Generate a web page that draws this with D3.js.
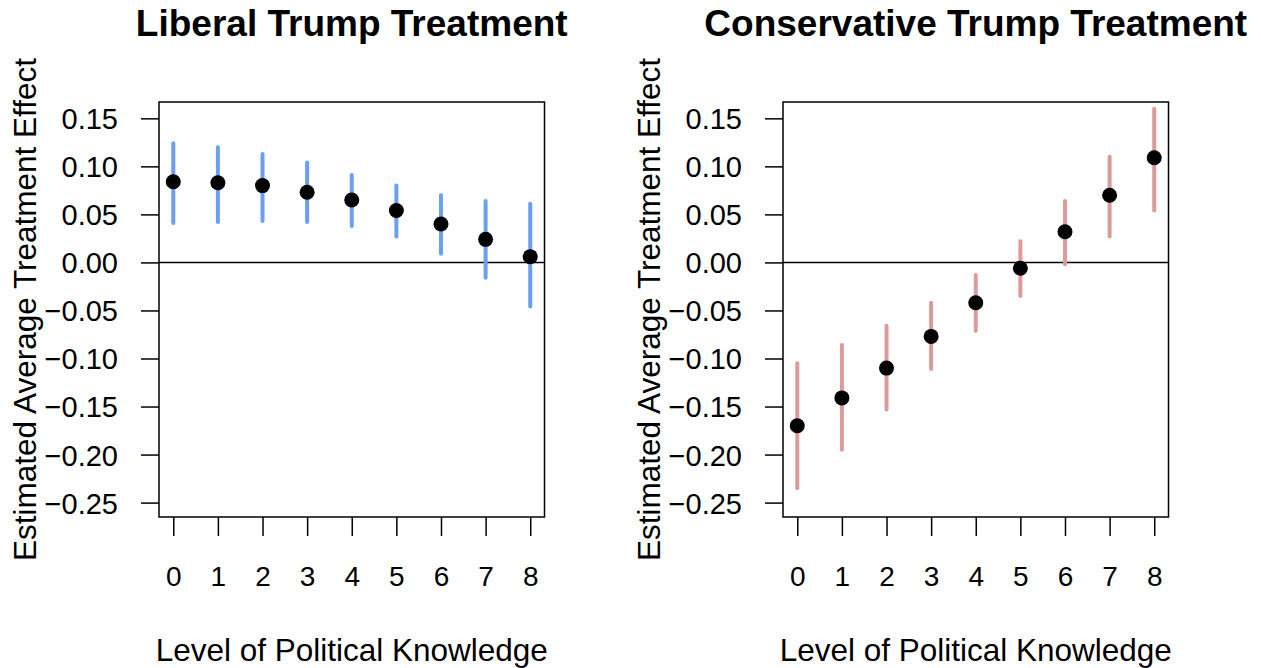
<!DOCTYPE html>
<html>
<head>
<meta charset="utf-8">
<script src="https://cdn.jsdelivr.net/npm/d3@7"></script>
<style>
  body { margin: 0; background: #fff; }
  svg { display: block; font-family: "Liberation Sans", Arial, sans-serif; }
</style>
</head>
<body>
<svg id="chart" width="1261" height="668"></svg>
<script>
// knowledge levels 0..8
var levels = [0, 1, 2, 3, 4, 5, 6, 7, 8];
var yTicks = [0.15, 0.10, 0.05, 0.00, -0.05, -0.10, -0.15, -0.20, -0.25];

// Liberal Trump treatment
var libEst   = [0.084, 0.083, 0.080, 0.073, 0.065, 0.054, 0.040, 0.024, 0.006];
var libLower = [0.041, 0.042, 0.043, 0.042, 0.038, 0.027, 0.009, -0.016, -0.046];
var libUpper = [0.124, 0.120, 0.113, 0.104, 0.091, 0.080, 0.070, 0.064, 0.061];

// Conservative Trump treatment
var conEst   = [-0.170, -0.141, -0.110, -0.077, -0.042, -0.006, 0.032, 0.070, 0.109];
var conLower = [-0.235, -0.195, -0.153, -0.111, -0.071, -0.035, -0.002, 0.027, 0.054];
var conUpper = [-0.105, -0.086, -0.066, -0.042, -0.013, 0.022, 0.064, 0.110, 0.160];

var panels = [
  { title: "Liberal Trump Treatment", est: libEst, lo: libLower, hi: libUpper, color: "#6b9ff1", left: 159 },
  { title: "Conservative Trump Treatment", est: conEst, lo: conLower, hi: conUpper, color: "#dd9a9a", left: 783 }
];

var boxW = 385.5, plotTop = 102, plotBottom = 517;
var svg = d3.select("#chart");

var y = d3.scaleLinear().domain([-0.265, 0.167]).range([plotBottom, plotTop]);
var fmt = function(d) { return d3.format(".2f")(d).replace("-", "\u2212"); };

panels.forEach(function(p) {
  var x = d3.scaleLinear().domain([-0.32, 8.32]).range([p.left, p.left + boxW]);
  var g = svg.append("g");

  // zero line
  g.append("line")
    .attr("x1", p.left).attr("x2", p.left + boxW)
    .attr("y1", y(0)).attr("y2", y(0))
    .attr("stroke", "black").attr("stroke-width", 1.5);

  // error bars
  g.selectAll("line.ci")
    .data(levels)
    .enter()
    .append("line")
      .attr("class", "ci")
      .attr("x1", function(d) { return x(d); })
      .attr("x2", function(d) { return x(d); })
      .attr("y1", function(d, i) { return y(p.lo[i]); })
      .attr("y2", function(d, i) { return y(p.hi[i]); })
      .attr("stroke", p.color)
      .attr("stroke-width", 4)
      .attr("stroke-linecap", "round");

  // point estimates
  g.selectAll("circle")
    .data(levels)
    .enter()
    .append("circle")
      .attr("cx", function(d) { return x(d); })
      .attr("cy", function(d, i) { return y(p.est[i]); })
      .attr("r", 7.5)
      .attr("fill", "black");

  // box
  g.append("rect")
    .attr("x", p.left).attr("y", plotTop)
    .attr("width", boxW).attr("height", plotBottom - plotTop)
    .attr("fill", "none").attr("stroke", "black").attr("stroke-width", 1.5);

  // y axis
  var ya = g.append("g")
    .attr("transform", "translate(" + p.left + ",0)")
    .call(d3.axisLeft(y).tickValues(yTicks).tickSize(18).tickPadding(23).tickFormat(fmt));
  ya.select(".domain").remove();
  ya.selectAll("line").attr("stroke-width", 1.5);
  ya.selectAll("text")
    .attr("font-size", 29)
    .attr("font-family", "Liberation Sans, Arial, sans-serif")
    .attr("fill", "black")
    .attr("dy", "0.36em");

  // x axis
  var xa = g.append("g")
    .attr("transform", "translate(0," + plotBottom + ")")
    .call(d3.axisBottom(x).tickValues(levels).tickSize(19).tickPadding(30).tickFormat(d3.format("d")));
  xa.select(".domain").remove();
  xa.selectAll("line").attr("stroke-width", 1.5);
  xa.selectAll("text")
    .attr("font-size", 28)
    .attr("font-family", "Liberation Sans, Arial, sans-serif")
    .attr("fill", "black");

  // title
  g.append("text")
    .attr("x", p.left + boxW / 2).attr("y", 36)
    .attr("text-anchor", "middle")
    .attr("font-size", 37).attr("font-weight", "bold")
    .text(p.title);

  // x label
  g.append("text")
    .attr("x", p.left + boxW / 2).attr("y", 661)
    .attr("text-anchor", "middle")
    .attr("font-size", 31.5)
    .text("Level of Political Knowledge");

  // y label
  g.append("text")
    .attr("transform", "translate(" + (p.left - 123) + "," + ((plotTop + plotBottom) / 2) + ") rotate(-90)")
    .attr("text-anchor", "middle")
    .attr("font-size", 31.5)
    .text("Estimated Average Treatment Effect");
});
</script>
</body>
</html>
